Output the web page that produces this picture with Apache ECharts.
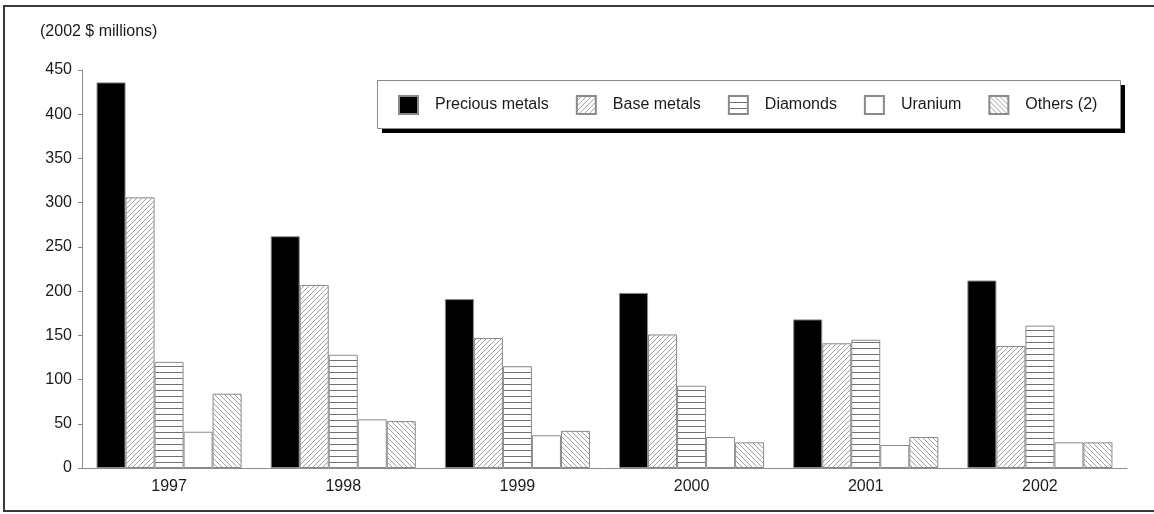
<!DOCTYPE html>
<html>
<head>
<meta charset="utf-8">
<script src="https://cdn.jsdelivr.net/npm/echarts@6/dist/echarts.min.js"></script>
<style>
  html, body { margin: 0; padding: 0; background: #fff; }
  #chart { width: 1154px; height: 514px; }
</style>
</head>
<body>
<div id="chart"></div>
<script>
// Exploration spending by commodity, constant 2002 dollars (millions)
const years = ['1997', '1998', '1999', '2000', '2001', '2002'];
const seriesNames = ['Precious metals', 'Base metals', 'Diamonds', 'Uranium', 'Others (2)'];
const precious = [436, 262, 191, 198, 168, 212];
const baseMetals = [306, 207, 147, 151, 141, 138];
const diamonds = [120, 128, 115, 93, 145, 161];
const uranium = [41, 55, 37, 35, 26, 29];
const others = [84, 53, 42, 29, 35, 29];
const yTicks = [0, 50, 100, 150, 200, 250, 300, 350, 400, 450];

const FONT = "'Liberation Sans', Arial, sans-serif";
const AXIS_GREY = '#8c8c8c';
const EDGE = '#8a8a8a';

// Small repeating tiles used as fill patterns
function tile(size, draw) {
  const c = document.createElement('canvas');
  c.width = size; c.height = size;
  const ctx = c.getContext('2d');
  ctx.fillStyle = '#fff';
  ctx.fillRect(0, 0, size, size);
  draw(ctx, size);
  return { image: c, repeat: 'repeat' };
}
const forwardHatch = tile(5, (ctx, s) => {
  ctx.strokeStyle = '#a0a0a0'; ctx.lineWidth = 1;
  ctx.beginPath();
  ctx.moveTo(0, s); ctx.lineTo(s, 0);
  ctx.moveTo(-1, 1); ctx.lineTo(1, -1);
  ctx.moveTo(s - 1, s + 1); ctx.lineTo(s + 1, s - 1);
  ctx.stroke();
});
const backHatch = tile(5, (ctx, s) => {
  ctx.strokeStyle = '#a0a0a0'; ctx.lineWidth = 1;
  ctx.beginPath();
  ctx.moveTo(0, 0); ctx.lineTo(s, s);
  ctx.moveTo(-1, s - 1); ctx.lineTo(1, s + 1);
  ctx.moveTo(s - 1, -1); ctx.lineTo(s + 1, 1);
  ctx.stroke();
});
const horizontalLines = tile(6, (ctx, s) => {
  ctx.strokeStyle = '#707070'; ctx.lineWidth = 1;
  ctx.beginPath();
  ctx.moveTo(0, 0.5); ctx.lineTo(s, 0.5);
  ctx.stroke();
});

const fills = ['#000000', forwardHatch, horizontalLines, '#ffffff', backHatch];
const values = [precious, baseMetals, diamonds, uranium, others];

// Legend panel with a hard drop shadow, drawn behind the legend items
const legendBox = { x: 377, y: 80, width: 743, height: 48 };

const chart = echarts.init(document.getElementById('chart'));
chart.setOption({
  animation: false,
  backgroundColor: '#fff',
  textStyle: { fontFamily: FONT },
  title: {
    text: '(2002 $ millions)',
    left: 40,
    top: 24,
    padding: 0,
    textStyle: { fontSize: 16, fontWeight: 'normal', color: '#1a1a1a', fontFamily: FONT }
  },
  graphic: [
    {
      type: 'rect',
      silent: true,
      z: -10,
      shape: { x: 4, y: 6, width: 1170, height: 505 },
      style: { fill: 'none', stroke: '#3a3a3a', lineWidth: 2 }
    },
    {
      type: 'rect',
      silent: true,
      z: 3,
      shape: { x: legendBox.x + 5, y: legendBox.y + 5, width: legendBox.width, height: legendBox.height },
      style: { fill: '#000', stroke: 'none' }
    },
    {
      type: 'rect',
      silent: true,
      z: 3,
      shape: { x: legendBox.x + 0.5, y: legendBox.y + 0.5, width: legendBox.width, height: legendBox.height },
      style: { fill: '#fff', stroke: '#8a8a8a', lineWidth: 1 }
    }
  ],
  legend: {
    left: legendBox.x,
    top: legendBox.y,
    z: 5,
    orient: 'horizontal',
    selectedMode: false,
    icon: 'rect',
    itemWidth: 19,
    itemHeight: 18,
    itemGap: 27,
    padding: [15, 22, 15, 21],
    textStyle: { fontSize: 16, color: '#1a1a1a', fontFamily: FONT, padding: [0, 0, 0, 12] },
    data: seriesNames
  },
  grid: { left: 82, right: 27, top: 70, bottom: 46, containLabel: false },
  xAxis: {
    type: 'category',
    data: years,
    boundaryGap: true,
    axisLine: { lineStyle: { color: AXIS_GREY, width: 1 } },
    axisTick: { alignWithLabel: true, length: 4, lineStyle: { color: AXIS_GREY } },
    axisLabel: { fontSize: 16, color: '#1a1a1a', margin: 11, fontFamily: FONT },
    splitLine: { show: false }
  },
  yAxis: {
    type: 'value',
    min: yTicks[0],
    max: yTicks[yTicks.length - 1],
    interval: yTicks[1] - yTicks[0],
    axisLine: { show: true, lineStyle: { color: AXIS_GREY, width: 1 } },
    axisTick: { show: true, length: 4, lineStyle: { color: AXIS_GREY } },
    axisLabel: { fontSize: 16, color: '#1a1a1a', margin: 10, fontFamily: FONT },
    splitLine: { show: false }
  },
  series: seriesNames.map((name, i) => ({
    name,
    type: 'bar',
    data: values[i],
    barGap: '0%',
    barCategoryGap: '16.7%',
    itemStyle: { color: fills[i], borderColor: EDGE, borderWidth: 1 },
    emphasis: { disabled: true }
  }))
});
</script>
</body>
</html>
